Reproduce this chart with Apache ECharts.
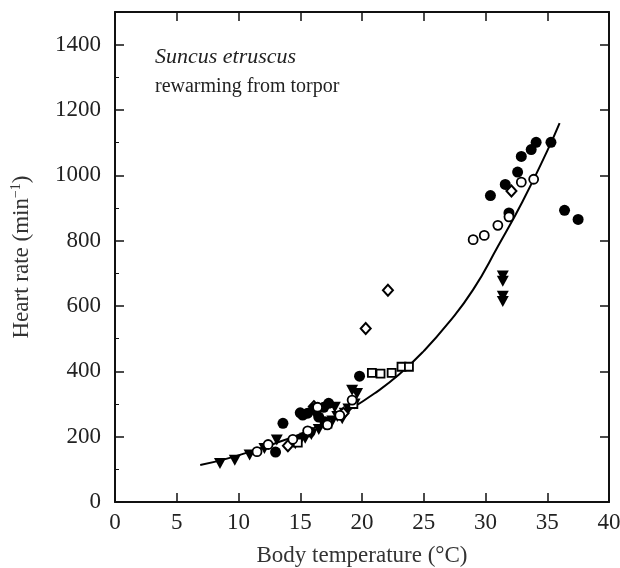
<!DOCTYPE html>
<html>
<head>
<meta charset="utf-8">
<script src="https://cdn.jsdelivr.net/npm/echarts@6/dist/echarts.min.js"></script>
<style>
  html, body { margin: 0; padding: 0; background: #fff; }
  #chart { width: 620px; height: 568px; }
</style>
</head>
<body>
<div id="chart"></div>
<script>
// body temperature (°C), heart rate (min-1) pairs
const filledCircles = [
  [13.0, 153], [13.6, 241], [15.0, 273], [15.2, 266], [15.6, 272], [16.1, 286],
  [16.5, 260], [16.9, 290], [17.3, 302], [19.8, 385], [15.8, 214], [17.0, 246],
  [30.4, 938], [31.6, 972], [32.6, 1010], [32.9, 1058], [33.7, 1079], [34.1, 1101],
  [35.3, 1101], [31.9, 885], [36.4, 893], [37.5, 865]
];
const openCircles = [
  [11.5, 154], [12.4, 176], [14.4, 192], [15.6, 218], [16.4, 290], [17.2, 236],
  [18.2, 265], [19.2, 312],
  [29.0, 803], [29.9, 816], [31.0, 847], [31.9, 873], [32.9, 979], [33.9, 988]
];
const openDiamonds = [
  [14.0, 172], [16.1, 292], [18.5, 272], [20.3, 531], [22.1, 648], [32.1, 952]
];
const openSquares = [
  [14.8, 182], [17.2, 240], [19.3, 300],
  [20.8, 395], [21.5, 393], [22.4, 395], [23.2, 414], [23.8, 414]
];
const filledTriangles = [
  [8.5, 118], [9.7, 128], [10.9, 144], [12.1, 164], [13.1, 190], [14.6, 178],
  [15.0, 188], [15.4, 195], [15.9, 207], [16.5, 222], [17.0, 236], [17.6, 248],
  [18.0, 262], [18.4, 255], [18.6, 272], [18.9, 285], [19.4, 300], [19.6, 332],
  [19.2, 342], [16.2, 270], [17.8, 290],
  [31.4, 692], [31.4, 676], [31.4, 630], [31.4, 614]
];
// fitted curve, sampled from the drawn line
const curveTemp = [6.9, 9, 11, 13, 15, 17, 19, 21, 23, 25, 27, 29, 31, 33, 35, 36];
const curveRate = [113, 132, 155, 180, 208, 242, 283, 332, 390, 462, 548, 650, 782, 920, 1075, 1160];

const xTicks = { min: 0, max: 40, interval: 5 };
const yTicks = { min: 0, max: 1500, interval: 200 };

const chart = echarts.init(document.getElementById('chart'));
const font = '"Liberation Serif", "DejaVu Serif", serif';
const ink = '#111';

const axisCommon = {
  axisLine: { show: true, onZero: false, lineStyle: { color: ink, width: 2 } },
  axisTick: { show: true, inside: true, length: 9, lineStyle: { color: ink, width: 1.5 } },
  splitLine: { show: false }
};

const option = {
  animation: false,
  grid: { left: 115, right: 11, top: 12, bottom: 66, containLabel: false, outerBoundsMode: 'none' },
  textStyle: { fontFamily: font },
  graphic: [
    {
      type: 'text', left: 155, top: 46,
      style: { text: 'Suncus etruscus', font: 'italic 22px ' + font, fill: '#222' }
    },
    {
      type: 'text', left: 155, top: 77,
      style: { text: 'rewarming from torpor', font: '20px ' + font, fill: '#222' }
    }
  ],
  xAxis: [
    Object.assign({
      type: 'value', position: 'bottom',
      min: xTicks.min, max: xTicks.max, interval: xTicks.interval,
      name: 'Body temperature (°C)', nameLocation: 'middle', nameGap: 42,
      nameTextStyle: { fontFamily: font, fontSize: 23, color: '#333' },
      axisLabel: { fontFamily: font, fontSize: 23, color: '#222', margin: 9 }
    }, axisCommon),
    Object.assign({
      type: 'value', position: 'top',
      min: xTicks.min, max: xTicks.max, interval: xTicks.interval,
      axisLabel: { show: false }
    }, axisCommon)
  ],
  yAxis: [
    Object.assign({
      type: 'value', position: 'left',
      min: yTicks.min, max: yTicks.max, interval: yTicks.interval,
      name: '{a|Heart rate (min}{s|−1}{a|)}', nameLocation: 'middle', nameGap: 80,
      nameRotate: 90,
      nameTextStyle: {
        rich: {
          a: { fontFamily: font, fontSize: 23, color: '#333' },
          s: { fontFamily: font, fontSize: 14, color: '#333', padding: [0, 0, 12, 0] }
        }
      },
      minorTick: { show: true, splitNumber: 2, length: 4, lineStyle: { color: ink } },
      axisLabel: {
        fontFamily: font, fontSize: 23, color: '#222', margin: 14,
        formatter: v => (v > 1400 ? '' : String(v))
      }
    }, axisCommon),
    Object.assign({
      type: 'value', position: 'right',
      min: yTicks.min, max: yTicks.max, interval: yTicks.interval,
      axisLabel: { show: false }
    }, axisCommon)
  ],
  series: [
    {
      type: 'line', data: curveTemp.map((t, i) => [t, curveRate[i]]),
      smooth: true, showSymbol: false,
      lineStyle: { color: '#000', width: 2 }, z: 3
    },
    {
      type: 'scatter', data: filledTriangles,
      symbol: 'triangle', symbolRotate: 180, symbolSize: [12, 11],
      itemStyle: { color: '#000', opacity: 1 }, z: 4
    },
    {
      type: 'scatter', data: openSquares,
      symbol: 'rect', symbolSize: 8,
      itemStyle: { color: '#fff', borderColor: '#000', borderWidth: 1.8, opacity: 1 }, z: 4
    },
    {
      type: 'scatter', data: openDiamonds,
      symbol: 'diamond', symbolSize: [10, 11],
      itemStyle: { color: '#fff', borderColor: '#000', borderWidth: 2, opacity: 1 }, z: 4
    },
    {
      type: 'scatter', data: filledCircles,
      symbol: 'circle', symbolSize: 11,
      itemStyle: { color: '#000', opacity: 1 }, z: 4
    },
    {
      type: 'scatter', data: openCircles,
      symbol: 'circle', symbolSize: 9,
      itemStyle: { color: '#fff', borderColor: '#000', borderWidth: 1.8, opacity: 1 }, z: 5
    }
  ]
};

chart.setOption(option);
</script>
</body>
</html>
